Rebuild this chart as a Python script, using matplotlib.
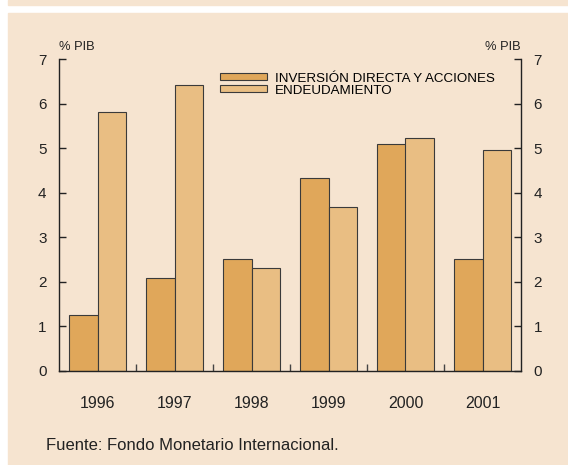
import numpy as np
import matplotlib
matplotlib.use("Agg")
import matplotlib.pyplot as plt
from matplotlib.patches import Rectangle
from matplotlib.ticker import FixedLocator, NullFormatter

years = ["1996", "1997", "1998", "1999", "2000", "2001"]
inversion = [1.25, 2.08, 2.51, 4.34, 5.10, 2.50]
endeudamiento = [5.81, 6.43, 2.31, 3.68, 5.24, 4.97]
labels = ["INVERSIÓN DIRECTA Y ACCIONES", "ENDEUDAMIENTO"]

BG = "#F6E4D0"
DARK = "#E0A75A"
LIGHT = "#E9BE83"
EDGE = "#3a3a3a"

plt.rcParams["font.family"] = ["Liberation Sans", "DejaVu Sans"]

W, H = 568, 465
fig = plt.figure(figsize=(W / 100, H / 100), dpi=100, facecolor="white")

# fondo del panel y franja superior
fig.patches.append(Rectangle((7.6 / W, 0), 1 - 7.6 / W, 1 - 12.7 / H,
                             transform=fig.transFigure, color=BG, zorder=-5))
fig.patches.append(Rectangle((7.6 / W, 1 - 5.4 / H), 1 - 7.6 / W, 5.4 / H,
                             transform=fig.transFigure, color=BG, zorder=-5))

ax = fig.add_axes([59 / W, (H - 370.5) / H, 462 / W, 311 / H])
ax.set_facecolor(BG)

x = np.arange(len(years))
w = 0.37
ax.bar(x - w / 2, inversion, w, color=DARK, edgecolor=EDGE, linewidth=0.8,
       label=labels[0], zorder=2)
ax.bar(x + w / 2, endeudamiento, w, color=LIGHT, edgecolor=EDGE, linewidth=0.8,
       label=labels[1], zorder=2)

ax.set_xlim(-0.5, len(years) - 0.5)
ax.set_ylim(0, 7)
ax.set_yticks(range(0, 8))

ax.spines["top"].set_visible(False)
for s in ["left", "right", "bottom"]:
    ax.spines[s].set_color("#222222")
    ax.spines[s].set_linewidth(1.0)

ax.tick_params(axis="y", which="major", direction="in", length=5, width=1,
               labelsize=11, pad=9, left=True, right=True,
               labelleft=True, labelright=True, colors="#222222")
ax.set_xticks(x)
ax.set_xticklabels(years)
ax.tick_params(axis="x", which="major", length=0, labelsize=11.5, pad=18,
               colors="#222222")
ax.xaxis.set_minor_locator(FixedLocator(np.arange(0.5, len(years) - 1, 1)))
ax.xaxis.set_minor_formatter(NullFormatter())
ax.tick_params(axis="x", which="minor", direction="in", length=5, width=1,
               colors="#444444")

fig.text(59 / W, 1 - 47 / H, "% PIB", fontsize=9.3, ha="left", va="center",
         color="#222222")
fig.text(521 / W, 1 - 47 / H, "% PIB", fontsize=9.3, ha="right", va="center",
         color="#222222")

ax.legend(loc="upper left", bbox_to_anchor=(220 / W, 1 - 72.5 / H),
          bbox_transform=fig.transFigure, frameon=False, fontsize=9.6,
          handlelength=3.5, handleheight=0.45, handletextpad=0.6,
          labelspacing=0.0, borderpad=0, borderaxespad=0)

fig.text(46 / W, 1 - 445 / H, "Fuente: Fondo Monetario Internacional.",
         fontsize=12, ha="left", va="center", color="#222222")

fig.savefig("out.png", dpi=100, facecolor="white")
